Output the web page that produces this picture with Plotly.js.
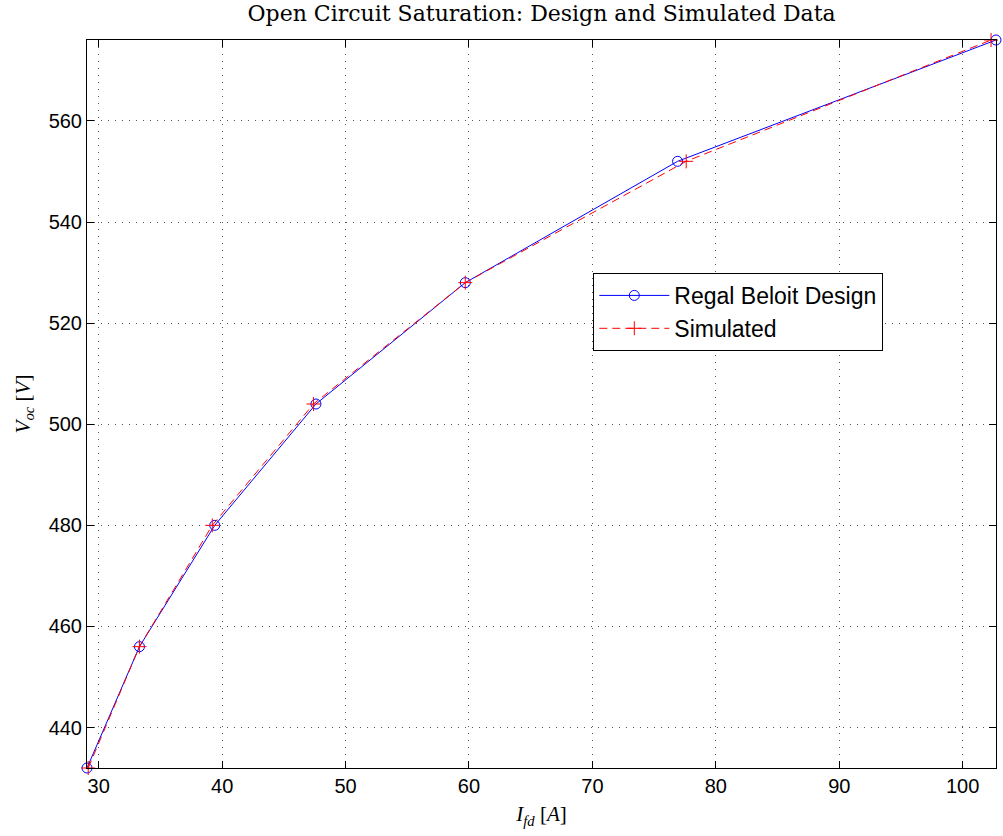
<!DOCTYPE html>
<html>
<head>
<meta charset="utf-8">
<script src="https://cdn.plot.ly/plotly-3.0.1.min.js"></script>
<style>
  html, body { margin: 0; padding: 0; background: #fff; }
  #chart { width: 1003px; height: 836px; }
</style>
</head>
<body>
<div id="chart"></div>
<script>
// Open-circuit saturation curve: field current vs. open-circuit voltage
const designIfd = [29.05, 33.3, 39.4, 47.6, 59.7, 76.9, 102.7];
const designVoc = [432, 456, 480, 504, 528, 552, 576];
const simIfd = [29.15, 33.3, 39.2, 47.4, 59.7, 77.6, 102.3];
const simVoc = [432, 456, 480, 504, 528, 552, 576];
const xTicks = [30, 40, 50, 60, 70, 80, 90, 100];
const yTicks = [440, 460, 480, 500, 520, 540, 560];

const serif = '"DejaVu Serif", "Liberation Serif", serif';
const sans = '"Liberation Sans", Arial, sans-serif';

const traces = [
  {
    x: designIfd, y: designVoc,
    name: 'Regal Beloit Design',
    type: 'scatter', mode: 'lines+markers',
    line: { color: '#0000ff', width: 1 },
    marker: { symbol: 'circle-open', size: 10, color: '#0000ff', line: { width: 1, color: '#0000ff' } },
    cliponaxis: false
  },
  {
    x: simIfd, y: simVoc,
    name: 'Simulated',
    type: 'scatter', mode: 'lines+markers',
    line: { color: '#ff0000', width: 1, dash: '8px,5px' },
    marker: { symbol: 'cross-thin-open', size: 10, color: '#ff0000', line: { width: 1, color: '#ff0000' } },
    cliponaxis: false
  }
];

const axisCommon = {
  showline: true, mirror: 'ticks', linecolor: '#000', linewidth: 1,
  ticks: 'inside', ticklen: 7, tickcolor: '#000', tickwidth: 1,
  showgrid: true, gridcolor: '#555', griddash: '1px,6px', gridwidth: 1,
  zeroline: false,
  tickfont: { family: sans, size: 20, color: '#000' }
};

const layout = {
  width: 1003, height: 836,
  margin: { l: 87, r: 7, t: 40, b: 68 },
  paper_bgcolor: '#fff', plot_bgcolor: '#fff',
  showlegend: true,
  title: {
    text: 'Open Circuit Saturation: Design and Simulated Data',
    font: { family: serif, size: 22, color: '#000', weight: 300 },
    x: 0.54, xanchor: 'center', y: 0.984, yanchor: 'middle'
  },
  xaxis: Object.assign({}, axisCommon, {
    range: [29.05, 102.7],
    tickvals: xTicks, ticktext: xTicks.map(String),
    title: { text: '<i>I</i><sub><i>fd</i></sub> [<i>A</i>]', font: { family: '"Liberation Serif", serif', size: 21, color: '#000' }, standoff: 10 }
  }),
  yaxis: Object.assign({}, axisCommon, {
    range: [432, 576],
    tickvals: yTicks, ticktext: yTicks.map(String),
    title: { text: '<i>V</i><sub><i>oc</i></sub> [<i>V</i>]', font: { family: '"Liberation Serif", serif', size: 21, color: '#000' }, standoff: 12 }
  }),
  legend: {
    x: 0.557, y: 0.68, xanchor: 'left', yanchor: 'top',
    bgcolor: '#fff', bordercolor: '#000', borderwidth: 1,
    font: { family: sans, size: 23, color: '#000' },
    tracegroupgap: 0, itemwidth: 70
  }
};

Plotly.newPlot('chart', traces, layout, { displayModeBar: false, staticPlot: true });
</script>
</body>
</html>
